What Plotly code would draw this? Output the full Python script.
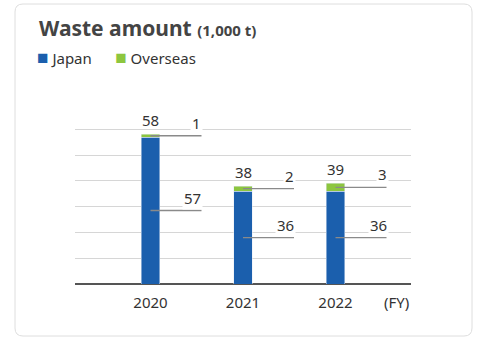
import plotly.graph_objects as go

# ---- data ----
years = ["2020", "2021", "2022"]
japan = [57, 36, 36]
overseas = [1, 2, 3]
totals = [58, 38, 39]
series_names = ["Japan", "Overseas"]

BLUE = "#1b5fad"
GREEN = "#8dc63f"
FONT = "Noto Sans"
TXT = "#333333"

W, H = 478, 338
L, R, T, B = 75, 67, 119, 54
PW, PH = W - L - R, H - T - B


def pxx(x):
    return (x - L) / PW


def pxy(y):
    return (H - B - y) / PH


fig = go.Figure()
fig.add_trace(go.Bar(x=years, y=japan, name=series_names[0], marker_color=BLUE,
                     width=0.2, showlegend=False, hoverinfo="skip"))
fig.add_trace(go.Bar(x=years, y=overseas, name=series_names[1], marker_color=GREEN,
                     width=0.2, showlegend=False, hoverinfo="skip"))

annotations = []
shapes = []
LEAD = 51
for i, yr in enumerate(years):
    # total label (category axis positions are serial numbers)
    annotations.append(dict(x=i, y=totals[i], xref="x", yref="y", text=str(totals[i]),
                            showarrow=False, yanchor="bottom", yshift=2,
                            font=dict(family=FONT, size=15, color=TXT)))
    # leader lines + labels for each segment
    for val, ymid in ((overseas[i], japan[i] + overseas[i] / 2), (japan[i], japan[i] / 2)):
        shapes.append(dict(type="line", xref="x", yref="y", xsizemode="pixel", xanchor=i,
                           x0=0, x1=LEAD, y0=ymid, y1=ymid,
                           line=dict(color="#8a8a8a", width=1.3), layer="above"))
        annotations.append(dict(x=i, y=ymid, xref="x", yref="y", text=str(val),
                                showarrow=False, xanchor="right", yanchor="bottom",
                                xshift=LEAD + 2, yshift=1, bgcolor="white", borderpad=1,
                                font=dict(family=FONT, size=15, color=TXT)))

# card background
x0, x1, y0, y1 = 15, 472, 4, 336
r = 8
path = (f"M {pxx(x0 + r)},{pxy(y0)} L {pxx(x1 - r)},{pxy(y0)} "
        f"Q {pxx(x1)},{pxy(y0)} {pxx(x1)},{pxy(y0 + r)} "
        f"L {pxx(x1)},{pxy(y1 - r)} Q {pxx(x1)},{pxy(y1)} {pxx(x1 - r)},{pxy(y1)} "
        f"L {pxx(x0 + r)},{pxy(y1)} Q {pxx(x0)},{pxy(y1)} {pxx(x0)},{pxy(y1 - r)} "
        f"L {pxx(x0)},{pxy(y0 + r)} Q {pxx(x0)},{pxy(y0)} {pxx(x0 + r)},{pxy(y0)} Z")
shapes.append(dict(type="path", xref="paper", yref="paper", path=path,
                   line=dict(color="#dedede", width=1), fillcolor="white", layer="below"))

# title
annotations.append(dict(xref="paper", yref="paper", x=pxx(37), y=pxy(28), xanchor="left",
                        yanchor="middle", showarrow=False,
                        text="<b>Waste amount</b> <span style='font-size:15px'><b>(1,000 t)</b></span>",
                        font=dict(family=FONT, size=21, color="#444444")))
# legend
annotations.append(dict(xref="paper", yref="paper", x=pxx(35), y=pxy(57), xanchor="left",
                        yanchor="middle", showarrow=False,
                        text=(f"<span style='color:{BLUE};font-size:19px'>■</span> {series_names[0]}"
                              f"&nbsp;&nbsp;&nbsp;&nbsp;&nbsp;&nbsp;<span style='color:{GREEN};font-size:19px'>■</span> {series_names[1]}"),
                        font=dict(family=FONT, size=15, color=TXT)))
# (FY)
annotations.append(dict(xref="paper", yref="paper", x=1.0, y=pxy(302), xanchor="right",
                        yanchor="middle", showarrow=False, text="(FY)",
                        font=dict(family=FONT, size=15, color=TXT)))

fig.update_layout(
    barmode="stack",
    width=W, height=H, autosize=False,
    margin=dict(l=L, r=R, t=T, b=B),
    paper_bgcolor="white", plot_bgcolor="rgba(0,0,0,0)",
    shapes=shapes, annotations=annotations,
    xaxis=dict(type="category", range=[-0.816, 2.816], showgrid=False, showline=False,
               zeroline=False, ticks="", ticklabelstandoff=8,
               tickfont=dict(family=FONT, size=15, color=TXT)),
    yaxis=dict(range=[0, 64], dtick=10, showgrid=True, gridcolor="#d6d6d6", gridwidth=1,
               zeroline=True, zerolinecolor="#555555", zerolinewidth=1.5,
               showticklabels=False, ticks=""),
    showlegend=False,
    hovermode=False,
)

fig.write_html("out.html", config={"displayModeBar": False, "staticPlot": True},
               post_script="document.body.style.margin='0';document.body.style.padding='0';")
